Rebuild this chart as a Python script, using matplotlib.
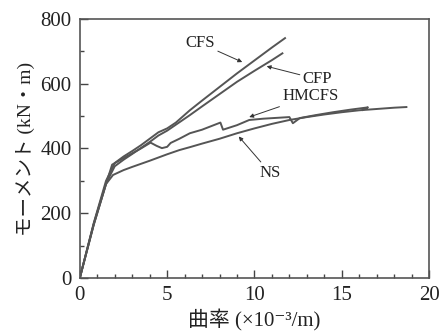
import matplotlib
matplotlib.use('Agg')
import matplotlib.pyplot as plt
from matplotlib.ticker import MultipleLocator

plt.rcParams['font.family'] = ['Liberation Serif', 'DejaVu Serif', 'Noto Sans CJK JP']

# curvature (x10^-3/m) and moment (kN*m)
cfs_x = [0, 0.8, 1.5, 2.0, 2.5, 3.0, 3.5, 4.0, 4.5, 5.0, 5.5, 6.3, 7.0, 8.0, 9.0, 10.0, 11.0, 11.75]
cfs_y = [0, 170, 300, 355, 375, 392, 410, 430, 450, 462, 480, 518, 548, 590, 632, 672, 712, 741]

cfp_x = [0, 0.8, 1.5, 2.0, 2.5, 3.0, 4.0, 4.5, 5.0, 6.3, 7.0, 8.0, 9.0, 10.0, 11.0, 11.6]
cfp_y = [0, 168, 292, 345, 365, 383, 420, 440, 455, 503, 530, 568, 606, 640, 673, 694]

hm_x = [0, 0.8, 1.5, 1.85, 2.5, 3.0, 3.5, 4.05, 4.4, 4.7, 5.0, 5.2, 5.7, 6.3, 7.0, 8.05, 8.2,
        9.0, 9.7, 10.5, 12.0, 12.2, 12.6, 13.5, 14.5, 15.5, 16.5, 16.2]
hm_y = [0, 165, 290, 350, 370, 385, 400, 418, 408, 401, 405, 417, 430, 447, 458, 480, 458,
        472, 488, 492, 497, 478, 494, 503, 512, 520, 527, 519]

ns_x = [0, 0.8, 1.5, 1.9, 2.5, 3.0, 4.0, 5.0, 5.7, 6.3, 7.0, 8.0, 9.0, 10.0, 11.0, 12.0,
        13.0, 14.0, 15.0, 16.0, 17.0, 18.0, 18.7]
ns_y = [0, 165, 290, 318, 333, 343, 362, 382, 395, 404, 415, 430, 447, 462, 476, 488,
        497, 505, 512, 518, 522, 526, 528]

line_color = '#555555'

fig = plt.figure(figsize=(4.41, 3.34), dpi=100)
ax = fig.add_axes([0.181, 0.168, 0.792, 0.775])

for xs, ys in [(cfs_x, cfs_y), (cfp_x, cfp_y), (hm_x, hm_y), (ns_x, ns_y)]:
    ax.plot(xs, ys, color=line_color, lw=1.4)

arrow = dict(arrowstyle='-|>', color='#333333', lw=0.7, mutation_scale=6, shrinkA=0, shrinkB=0)
ax.annotate('CFS', xy=(9.3, 667), xytext=(6.9, 725), fontsize=12, color='#222222',
            ha='center', va='center', arrowprops=arrow)
ax.annotate('CFP', xy=(10.7, 654), xytext=(13.6, 614), fontsize=12, color='#222222',
            ha='center', va='center', arrowprops=arrow)
ax.annotate('HMCFS', xy=(9.7, 497), xytext=(13.2, 562), fontsize=12, color='#222222',
            ha='center', va='center', arrowprops=arrow)
ax.annotate('NS', xy=(9.1, 437), xytext=(10.9, 325), fontsize=12, color='#222222',
            ha='center', va='center', arrowprops=arrow)

ax.set_xlim(0, 20)
ax.set_ylim(0, 800)
ax.xaxis.set_major_locator(MultipleLocator(5))
ax.xaxis.set_minor_locator(MultipleLocator(1))
ax.yaxis.set_major_locator(MultipleLocator(200))
ax.yaxis.set_minor_locator(MultipleLocator(100))
ax.tick_params(which='both', direction='in', top=False, right=False, colors='#444444',
               labelcolor='#222222', labelsize=15)
ax.tick_params(which='major', length=6, width=1, pad=6)
ax.tick_params(which='minor', length=3, width=1)
for s in ax.spines.values():
    s.set_color('#555555')
    s.set_linewidth(1.2)

ax.set_xlabel('曲率 (×10⁻³/m)', fontsize=15, color='#222222', labelpad=3)
ax.set_ylabel('モーメント (kN・m)', fontsize=14, color='#222222', labelpad=4)

fig.savefig('out.png', dpi=100)
